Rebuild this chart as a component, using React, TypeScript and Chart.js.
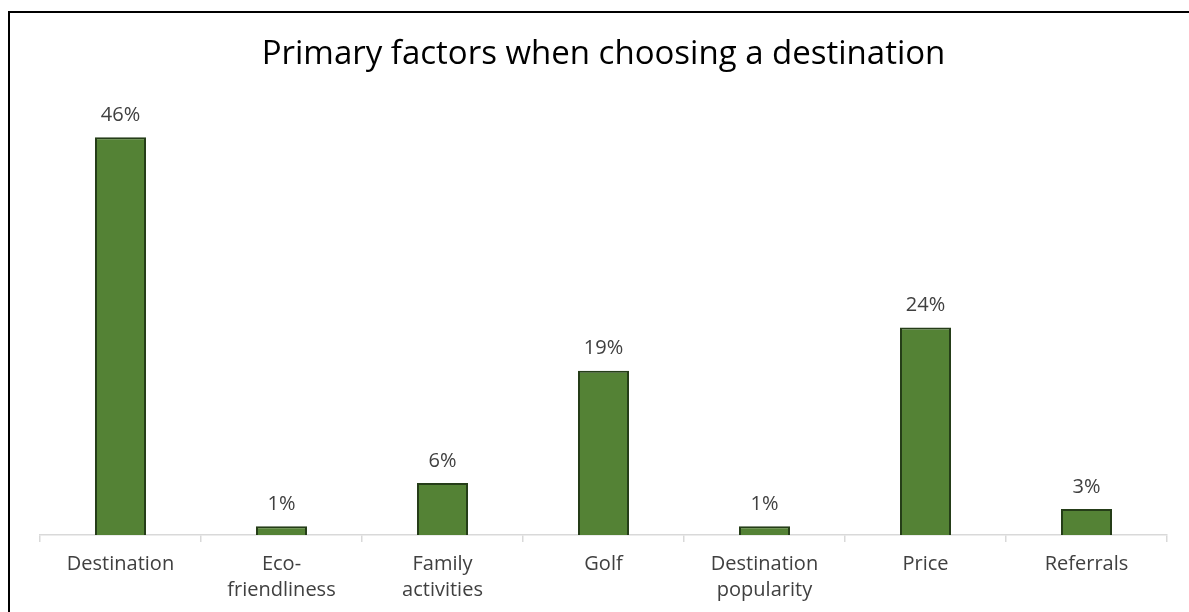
import React, { useEffect, useRef } from "react";
import { Chart, registerables } from "chart.js";

Chart.register(...registerables);

const title = "Primary factors when choosing a destination";
const categories: (string | string[])[] = [
  "Destination",
  ["Eco-", "friendliness"],
  ["Family", "activities"],
  "Golf",
  ["Destination", "popularity"],
  "Price",
  "Referrals",
];
const values = [46, 1, 6, 19, 1, 24, 3];
const valueLabels = ["46%", "1%", "6%", "19%", "1%", "24%", "3%"];

const FONT = "'Open Sans', 'Noto Sans', sans-serif";

const dataLabelPlugin = {
  id: "dataLabels",
  afterDatasetsDraw(chart: any) {
    const ctx = chart.ctx;
    const meta = chart.getDatasetMeta(0);
    ctx.save();
    ctx.font = `20px ${FONT}`;
    ctx.fillStyle = "#404040";
    ctx.textAlign = "center";
    ctx.textBaseline = "middle";
    meta.data.forEach((bar: any, i: number) => {
      ctx.fillText(valueLabels[i], bar.x, bar.y - 22);
    });
    ctx.restore();
  },
};

export default function App() {
  const ref = useRef<HTMLCanvasElement>(null);
  useEffect(() => {
    if (!ref.current) return;
    const chart = new Chart(ref.current, {
      type: "bar",
      data: {
        labels: categories,
        datasets: [
          {
            data: values,
            backgroundColor: "#548235",
            borderColor: "#253d18",
            borderWidth: 2,
            categoryPercentage: 1,
            barPercentage: 0.317,
          },
        ],
      },
      options: {
        responsive: false,
        animation: false,
        layout: { padding: { left: 40, right: 22, top: 0, bottom: 0 } },
        plugins: {
          legend: { display: false },
          tooltip: { enabled: false },
          title: {
            display: true,
            text: title,
            color: "#000000",
            font: { family: FONT, size: 33, weight: "normal" },
            padding: { top: 35, bottom: 28 },
          },
        },
        scales: {
          y: { display: false, min: 0, max: 50 },
          x: {
            offset: true,
            border: { display: true, color: "#d9d9d9", width: 1.5 },
            grid: {
              offset: true,
              drawOnChartArea: false,
              tickLength: 7,
              color: "#d9d9d9",
              lineWidth: 1.5,
            },
            ticks: {
              color: "#404040",
              padding: 9,
              maxRotation: 0,
              autoSkip: false,
              font: { family: FONT, size: 20, lineHeight: 1.3 },
            },
          },
        },
      },
      plugins: [dataLabelPlugin],
    });
    return () => chart.destroy();
  }, []);
  return (
    <div style={{ position: "fixed", left: 0, top: 0, width: 1189, height: 612, overflow: "hidden", background: "#fff" }}>
      <div style={{ position: "absolute", left: 8, top: 11, width: 1400, height: 800, borderLeft: "2px solid #000", borderTop: "2px solid #000" }} />
      <canvas ref={ref} width={1189} height={612} style={{ position: "absolute", left: 0, top: 0 }} />
    </div>
  );
}
